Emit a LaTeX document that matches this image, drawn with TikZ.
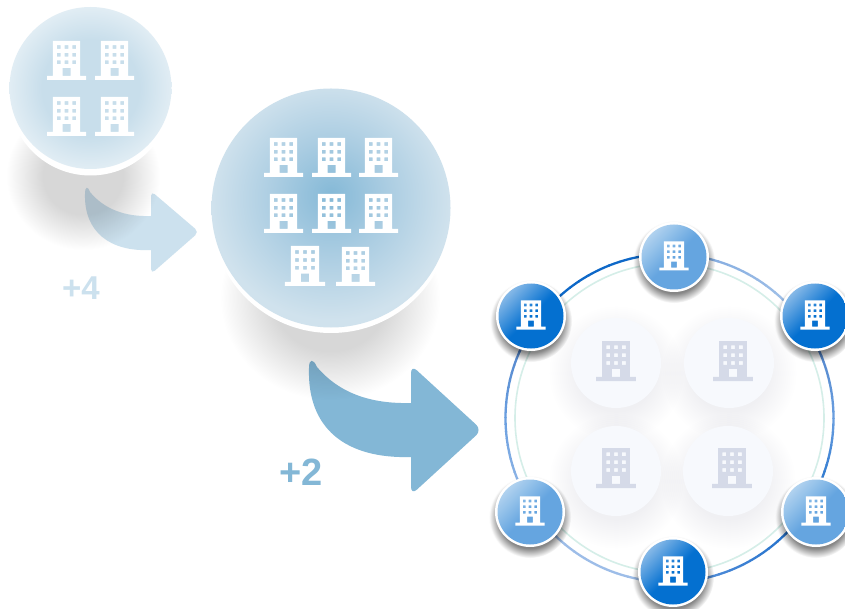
\documentclass[tikz,border=0pt]{standalone}
\usepackage{fontspec}
\setmainfont{Liberation Sans}
\usetikzlibrary{calc}
\definecolor{shgray}{HTML}{D7D7D7}
\definecolor{pgray}{HTML}{F0F0F3}
\definecolor{ngray}{HTML}{858585}
\definecolor{c1}{HTML}{C8DEEB}
\definecolor{c2}{HTML}{E1EDF4}
\definecolor{c3}{HTML}{85B9D7}
\definecolor{c4}{HTML}{ABCDE2}
\definecolor{c5}{HTML}{D0E2ED}
\definecolor{m1}{HTML}{65A5E0}
\definecolor{m2}{HTML}{B0D2EF}
\definecolor{d1}{HTML}{0470D0}
\definecolor{d2}{HTML}{85B8E7}
\definecolor{ra}{HTML}{0E68C8}
\definecolor{rb}{HTML}{7BA6DE}
\definecolor{rc}{HTML}{A9C6EA}
\definecolor{rd}{HTML}{4A7CC4}
\definecolor{re}{HTML}{6A9FE0}
\definecolor{rf}{HTML}{1468C8}
\definecolor{rg}{HTML}{5F95DC}
\definecolor{rh}{HTML}{9DBDE8}
\definecolor{arrowa}{HTML}{CCE1EE}
\definecolor{arrowb}{HTML}{83B7D6}
\definecolor{picon}{HTML}{D5DAE8}
\definecolor{pfill}{HTML}{F7F9FD}
\definecolor{tealring}{HTML}{D5EEE8}
\pgfdeclareradialshading{softbig}{\pgfpoint{0bp}{0bp}}{color(0bp)=(shgray); color(13bp)=(shgray); color(25bp)=(white); color(50bp)=(white)}
\pgfdeclareradialshading{softpale}{\pgfpoint{0bp}{0bp}}{color(0bp)=(pgray); color(14bp)=(pgray); color(25bp)=(white); color(50bp)=(white)}
\pgfdeclareradialshading{softnode}{\pgfpoint{0bp}{0bp}}{color(0bp)=(ngray); color(19bp)=(ngray); color(25bp)=(white); color(50bp)=(white)}
\pgfdeclareradialshading{smalldiscb}{\pgfpoint{0bp}{0bp}}{color(0bp)=(c1); color(15bp)=(c1); color(25bp)=(c2); color(50bp)=(c2)}
\pgfdeclareradialshading{bigdisc}{\pgfpoint{0bp}{3bp}}{color(0bp)=(c3); color(12bp)=(c4); color(25bp)=(c5); color(50bp)=(c5)}
\pgfdeclareverticalshading{midnode}{100bp}{color(0bp)=(m1); color(50bp)=(m1); color(75bp)=(m2); color(100bp)=(m2)}
\pgfdeclareverticalshading{darknode}{100bp}{color(0bp)=(d1); color(50bp)=(d1); color(75bp)=(d2); color(100bp)=(d2)}
\newcommand{\bldg}[4]{%
  \fill[#4,even odd rule,shift={(#1,#2)},scale=#3]
    (-19.5,0) -- (19.5,0) -- (19.5,-4) -- (13.7,-4) -- (13.7,-39) -- (-13.7,-39) -- (-13.7,-4) -- (-19.5,-4) -- cycle
    (-4,-12) rectangle (4,-4)
    \foreach \wx in {-7.7,0,7.7}{ \foreach \wy in {-33,-25.3,-17.7}{
      (\wx-1.85,\wy-1.85) rectangle (\wx+1.85,\wy+1.85) } };
}
\newcommand{\ringarc}[4]{% from angle, to angle, colour a, colour b
  \foreach \k in {1,...,14}{
    \pgfmathsetmacro{\aa}{#1+(#2-#1)*(\k-1)/14}
    \pgfmathsetmacro{\ab}{#1+(#2-#1)*\k/14+0.3*(#2-#1)/abs(#2-#1)}
    \pgfmathsetmacro{\pc}{100*(\k-0.5)/14}
    \draw[line width=2.3pt,color=#4!\pc!#3]
      ($(669.5,418)+(\aa:164pt)$) arc[start angle=\aa,end angle=\ab,radius=164pt];
  }
}
\tikzset{
  multiplied/.style={blend mode=multiply},
  bigarrow/.style={blend mode=multiply,fill=#1}
}
\begin{document}
\begin{tikzpicture}[x=1pt,y=-1pt]
\useasboundingbox (0,0) rectangle (845,609);
\clip (0,0) rectangle (845,609);
\fill[white] (0,0) rectangle (845,609);
% soft shadows
\begin{scope}[multiplied]
\shade[shading=softbig] (83,176) ellipse (77pt and 74pt);
\shade[shading=softbig] (330,298) ellipse (110pt and 102pt);
\foreach \p in {(616,373),(729,373),(616,481),(728,481)}
  \shade[shading=softpale] \p circle (68pt);
\end{scope}
% discs
\fill[white] (90.5,93.5) circle (82pt);
\shade[shading=smalldiscb] (90.5,88) circle (81pt);
\fill[white] (331,212.5) circle (120.5pt);
\shade[shading=bigdisc] (331,208) circle (119.5pt);
\foreach \x/\y in {66.5/80,114.5/80,66.5/136,114.5/136,283.5/177,331.5/177,378.5/177,283.5/233,331.5/233,378.5/233}
  {\bldg{\x}{\y}{1}{white}}
\bldg{305}{286}{1.03}{white}
\bldg{355.5}{286}{1}{white}
% arrows
\fill[bigarrow=arrowa] (151,216) [rounded corners=5pt] -- (151,191) -- (199,232) -- (151,274) [sharp corners] -- (151,250) .. controls (110,252) and (84,232) .. (85,194) .. controls (85,186) and (88,186) .. (90,192) .. controls (104,209) and (125,217) .. (151,216) -- cycle;
\fill[bigarrow=arrowb] (411,403) [rounded corners=8pt] -- (411,365) -- (482,430) -- (411,495) [sharp corners] -- (411,457) .. controls (345,459) and (307,428) .. (309,368) .. controls (309,359) and (313,358) .. (317,367) .. controls (340,394) and (372,404) .. (411,403) -- cycle;
\node[text=arrowa,font=\fontsize{33}{38}\selectfont\bfseries] (plusfour) at (81,288) {+4};
\node[text=arrowb,font=\fontsize{38}{44}\selectfont\bfseries] (plustwo) at (301,472) {+2};
% ring
\draw[tealring,line width=1.6pt] (669.5,418) circle (154.5pt);
\ringarc{88}{143}{ra}{ra}
\ringarc{88}{35}{rb}{rc}
\ringarc{35}{0}{rd}{re}
\ringarc{0}{-33}{re}{rf}
\ringarc{-33}{-88}{rf}{rg}
\ringarc{-88}{-146}{rh}{rh}
\ringarc{214}{180}{rh}{re}
\ringarc{180}{143}{re}{rd}
% pale circles
\foreach \x/\y/\ix/\iy in {616/363/616/381,729/363/733/381,616/471/616/488,728/471/732/488}{
  \fill[pfill] (\x,\y) circle (45pt);
  \bldg{\ix}{\iy}{1.02}{picon}
}
% blue nodes
\begin{scope}[multiplied]
\foreach \x/\y in {531/316,674/257,815/316,816/512,673/572,530/512}
  \shade[shading=softnode] (\x,\y+5) circle (41pt);
\end{scope}
\foreach \x/\y/\s in {531/316/darknode,674/257/midnode,815/316/darknode,816/512/midnode,673/572/darknode,530/512/midnode}{
  \fill[white] (\x,\y) circle (35pt);
  \shade[shading=\s,shading angle=45] (\x,\y) circle (32.5pt);
  \bldg{\x}{\y+13.5}{0.745}{white}
}
\end{tikzpicture}
\end{document}
